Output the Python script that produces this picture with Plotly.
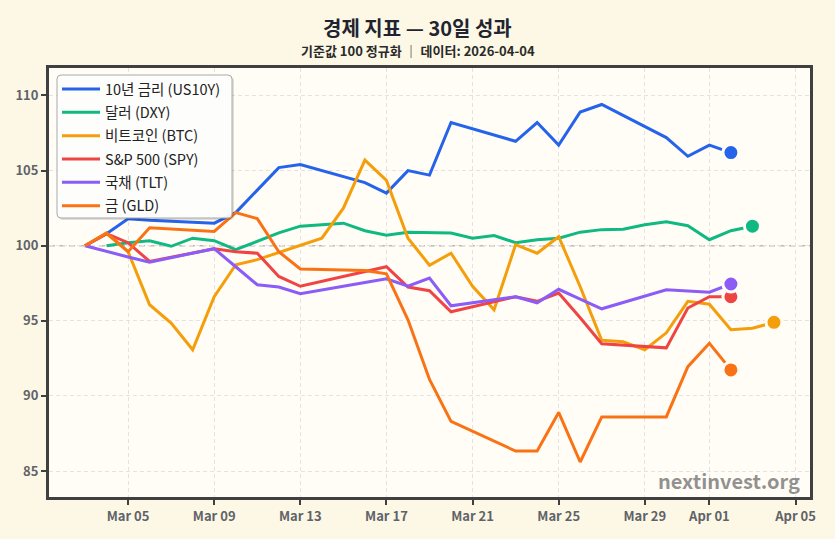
import plotly.graph_objects as go

# ---------------- data ----------------
trade_dates = [
    "2026-03-03", "2026-03-04", "2026-03-05", "2026-03-06",
    "2026-03-09", "2026-03-10", "2026-03-11", "2026-03-12", "2026-03-13",
    "2026-03-16", "2026-03-17", "2026-03-18", "2026-03-19", "2026-03-20",
    "2026-03-23", "2026-03-24", "2026-03-25", "2026-03-26", "2026-03-27",
    "2026-03-30", "2026-03-31", "2026-04-01", "2026-04-02",
]
dxy_dates = [
    "2026-03-04", "2026-03-05", "2026-03-06", "2026-03-07", "2026-03-08",
    "2026-03-09", "2026-03-10", "2026-03-11", "2026-03-12", "2026-03-13",
    "2026-03-14", "2026-03-15", "2026-03-16", "2026-03-17", "2026-03-18",
    "2026-03-19", "2026-03-20", "2026-03-21", "2026-03-22", "2026-03-23",
    "2026-03-24", "2026-03-25", "2026-03-26", "2026-03-27", "2026-03-28",
    "2026-03-29", "2026-03-30", "2026-03-31", "2026-04-01", "2026-04-02",
    "2026-04-03",
]
btc_dates = [
    "2026-03-03", "2026-03-04", "2026-03-05", "2026-03-06", "2026-03-07",
    "2026-03-08", "2026-03-09", "2026-03-10", "2026-03-11", "2026-03-12",
    "2026-03-13", "2026-03-14", "2026-03-15", "2026-03-16", "2026-03-17",
    "2026-03-18", "2026-03-19", "2026-03-20", "2026-03-21", "2026-03-22",
    "2026-03-23", "2026-03-24", "2026-03-25", "2026-03-26", "2026-03-27",
    "2026-03-28", "2026-03-29", "2026-03-30", "2026-03-31", "2026-04-01",
    "2026-04-02", "2026-04-03", "2026-04-04",
]

us10y = [100.0, 100.8, 101.8, 101.7, 101.5, 102.2, 103.7, 105.2, 105.4,
         104.2, 103.5, 105.0, 104.7, 108.2, 106.95, 108.2, 106.7, 108.9,
         109.4, 107.2, 105.95, 106.7, 106.2]
dxy = [100.0, 100.2, 100.33, 99.96, 100.5, 100.33, 99.73, 100.3, 100.85,
       101.3, 101.4, 101.5, 101.0, 100.7, 100.9, 100.85, 100.85, 100.5,
       100.67, 100.2, 100.4, 100.5, 100.9, 101.07, 101.1, 101.4, 101.6,
       101.33, 100.4, 101.0, 101.3]
btc = [100.0, 100.8, 99.6, 96.07, 94.85, 93.07, 96.6, 98.73, 99.07, 99.55,
       100.07, 100.5, 102.5, 105.7, 104.35, 100.5, 98.7, 99.5, 97.3, 95.73,
       100.07, 99.5, 100.6, 97.27, 93.7, 93.6, 93.07, 94.2, 96.3, 96.1,
       94.4, 94.5, 94.9]
spy = [100.0, 100.8, 100.2, 98.95, 99.8, 99.6, 99.5, 97.95, 97.3, 98.3,
       98.6, 97.25, 97.0, 95.6, 96.6, 96.3, 96.85, 95.2, 93.47, 93.2,
       95.85, 96.6, 96.6]
tlt = [100.0, 99.6, 99.25, 98.9, 99.8, 98.6, 97.4, 97.25, 96.8, 97.55,
       97.8, 97.3, 97.85, 96.0, 96.6, 96.2, 97.1, 96.45, 95.8, 97.07,
       97.0, 96.9, 97.45]
gld = [100.0, 100.85, 99.6, 101.2, 100.95, 102.2, 101.8, 99.6, 98.45,
       98.35, 98.13, 95.07, 91.1, 88.3, 86.33, 86.33, 88.9, 85.6, 88.6,
       88.6, 91.95, 93.5, 91.73]

series_names = ["10년 금리 (US10Y)", "달러 (DXY)", "비트코인 (BTC)",
                "S&P 500 (SPY)", "국채 (TLT)", "금 (GLD)"]
series_dates = [trade_dates, dxy_dates, btc_dates, trade_dates, trade_dates, trade_dates]
series_values = [us10y, dxy, btc, spy, tlt, gld]
series_colors = ["#2563EB", "#10B981", "#F59E0B", "#EF4444", "#8B5CF6", "#F97316"]

x_tick_dates = ["2026-03-05", "2026-03-09", "2026-03-13", "2026-03-17",
                "2026-03-21", "2026-03-25", "2026-03-29", "2026-04-01",
                "2026-04-05"]
x_tick_labels = ["Mar 05", "Mar 09", "Mar 13", "Mar 17", "Mar 21",
                 "Mar 25", "Mar 29", "Apr 01", "Apr 05"]
y_ticks = [85, 90, 95, 100, 105, 110]
baseline = 100

title_text = "경제 지표 — 30일 성과"
subtitle_text = "기준값 100 정규화 ｜ 데이터: 2026-04-04"
watermark_text = "nextinvest.org"

# ---------------- style ----------------
FONT = "Noto Sans CJK KR, Noto Sans, sans-serif"
PAPER_BG = "#FDF8E6"
PLOT_BG = "#FFFDF6"
AXIS_COLOR = "#404040"
W, H = 835, 539
M_L, M_R, M_T, M_B = 49, 25, 68, 42
plot_w = W - M_L - M_R
plot_h = H - M_T - M_B


def px_x(px):
    return (px - M_L) / plot_w


def px_y(py):
    return (H - M_B - py) / plot_h


def rounded_rect(x0, y0, x1, y1, r):
    # pixel box -> paper-coordinate SVG path with rounded corners
    rx, ry = r / plot_w, r / plot_h
    X0, X1 = px_x(x0), px_x(x1)
    Y0, Y1 = px_y(y0), px_y(y1)  # Y0 top (larger), Y1 bottom
    return (f"M {X0 + rx} {Y0} L {X1 - rx} {Y0} Q {X1} {Y0} {X1} {Y0 - ry} "
            f"L {X1} {Y1 + ry} Q {X1} {Y1} {X1 - rx} {Y1} "
            f"L {X0 + rx} {Y1} Q {X0} {Y1} {X0} {Y1 + ry} "
            f"L {X0} {Y0 - ry} Q {X0} {Y0} {X0 + rx} {Y0} Z")


fig = go.Figure()

for i, (name, d, v, c) in enumerate(zip(series_names, series_dates, series_values, series_colors)):
    fig.add_trace(go.Scatter(
        x=d, y=v, mode="lines", name=name,
        line=dict(color=c, width=3),
        legendgroup=f"g{i}",
        hoverinfo="skip",
    ))

for i, (name, d, v, c) in enumerate(zip(series_names, series_dates, series_values, series_colors)):
    fig.add_trace(go.Scatter(
        x=[d[-1]], y=[v[-1]], mode="markers", showlegend=False,
        marker=dict(color=c, size=16, line=dict(color=PLOT_BG, width=3)),
        legendgroup=f"g{i}",
        hoverinfo="skip",
    ))

fig.add_hline(y=baseline, line=dict(color="#BBBBBB", width=1.5, dash="6px,4px"), layer="below")

# legend frame (shadow + rounded box) drawn as shapes under the legend text
fig.add_shape(type="path", path=rounded_rect(59, 77, 234, 220, 4), xref="paper", yref="paper",
              fillcolor="rgba(0,0,0,0.12)", line=dict(width=0), layer="above")
fig.add_shape(type="path", path=rounded_rect(57, 75, 232, 218, 4), xref="paper", yref="paper",
              fillcolor="rgba(255,255,255,0.92)", line=dict(color="#A8A8A8", width=1), layer="above")

center_x = px_x(W / 2)

fig.update_layout(
    width=W, height=H,
    paper_bgcolor=PAPER_BG, plot_bgcolor=PLOT_BG,
    margin=dict(l=M_L, r=M_R, t=M_T, b=M_B),
    font=dict(family=FONT, color="#333333"),
    showlegend=True,
    legend=dict(
        x=px_x(57), y=px_y(73), xanchor="left", yanchor="top",
        bgcolor="rgba(0,0,0,0)", borderwidth=0,
        font=dict(family=FONT, size=14.5, color="#222222"),
        tracegroupgap=1.5,
        itemwidth=38,
    ),
    annotations=[
        dict(text=title_text, x=center_x, y=px_y(27),
             xref="paper", yref="paper", xanchor="center", yanchor="middle",
             showarrow=False, font=dict(family=FONT, size=20, color="#1F2430", weight="bold")),
        dict(text=subtitle_text, x=center_x, y=px_y(50),
             xref="paper", yref="paper", xanchor="center", yanchor="middle",
             showarrow=False, font=dict(family=FONT, size=13, color="#2A2A2A", weight="bold")),
        dict(text=watermark_text, x=0.99, y=0.0, xref="paper", yref="paper",
             xanchor="right", yanchor="bottom", showarrow=False,
             font=dict(family=FONT, size=20, color="rgba(110,110,110,0.75)", weight="bold")),
    ],
)

fig.update_xaxes(
    type="date",
    range=["2026-03-01 07:50", "2026-04-05 16:10"],
    tickvals=x_tick_dates, ticktext=x_tick_labels,
    showgrid=True, gridcolor="#E3E3E3", gridwidth=1, griddash="4px,3px",
    showline=True, linecolor=AXIS_COLOR, linewidth=3, mirror=True,
    ticks="outside", ticklen=5, tickwidth=1.5, tickcolor=AXIS_COLOR,
    tickfont=dict(family=FONT, size=13, color="#5F6368", weight=600),
    zeroline=False,
)
fig.update_yaxes(
    range=[83.27, 111.83],
    tickvals=y_ticks,
    showgrid=True, gridcolor="#E3E3E3", gridwidth=1, griddash="4px,3px",
    showline=True, linecolor=AXIS_COLOR, linewidth=3, mirror=True,
    ticks="outside", ticklen=5, tickwidth=1.5, tickcolor=AXIS_COLOR,
    tickfont=dict(family=FONT, size=13, color="#5F6368", weight=600),
    zeroline=False,
)

fig.write_html("out.html")
